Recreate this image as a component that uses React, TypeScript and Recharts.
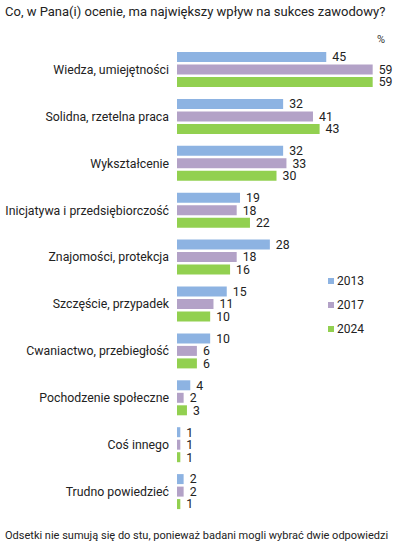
import React from 'react';
import { BarChart, Bar, XAxis, YAxis, LabelList } from 'recharts';

const categories = [
  'Wiedza, umiejętności',
  'Solidna, rzetelna praca',
  'Wykształcenie',
  'Inicjatywa i przedsiębiorczość',
  'Znajomości, protekcja',
  'Szczęście, przypadek',
  'Cwaniactwo, przebiegłość',
  'Pochodzenie społeczne',
  'Coś innego',
  'Trudno powiedzieć',
];
const values2013 = [45, 32, 32, 19, 28, 15, 10, 4, 1, 2];
const values2017 = [59, 41, 33, 18, 18, 11, 6, 2, 1, 2];
const values2024 = [59, 43, 30, 22, 16, 10, 6, 3, 1, 1];
const seriesNames = ['2013', '2017', '2024'];
const colors = ['#8DB3E2', '#B3A2C7', '#92D050'];

const data = categories.map((c, i) => ({
  name: c,
  y2013: values2013[i],
  y2017: values2017[i],
  y2024: values2024[i],
}));

const FONT = 'Roboto, "Noto Sans", sans-serif';

const CategoryTick = (props: any) => {
  const { x, y, payload } = props;
  return (
    <text x={x} y={y} dy="0.355em" textAnchor="end" fontSize={12.3} fill="#222" fontFamily={FONT}>
      {payload.value}
    </text>
  );
};

export default function App() {
  return (
    <div style={{ position: 'absolute', left: 0, top: 0, width: 397, height: 548, background: '#fff', fontFamily: FONT }}>
      <div style={{ position: 'absolute', left: 5, top: 4, fontSize: 13, color: '#222', whiteSpace: 'nowrap' }}>
        Co, w Pana(i) ocenie, ma największy wpływ na sukces zawodowy?
      </div>
      <div style={{ position: 'absolute', left: 377, top: 33, fontSize: 11, color: '#333' }}>%</div>
      <BarChart
        width={397}
        height={548}
        data={data}
        layout="vertical"
        margin={{ top: 46, right: 21, bottom: 33, left: 0 }}
        barSize={10}
        barGap={2.5}
      >
        <XAxis type="number" domain={[0, 60]} hide />
        <YAxis
          type="category"
          dataKey="name"
          width={177}
          axisLine={false}
          tickLine={false}
          tickSize={0}
          tickMargin={8}
          interval={0}
          tick={<CategoryTick />}
        />
        {['y2013', 'y2017', 'y2024'].map((k, i) => (
          <Bar key={k} dataKey={k} name={seriesNames[i]} fill={colors[i]} isAnimationActive={false}>
            <LabelList dataKey={k} position="right" offset={6} style={{ fontSize: 12.3, fill: '#222', fontFamily: FONT }} />
          </Bar>
        ))}
      </BarChart>
      <div style={{ position: 'absolute', left: 328, top: 269, fontSize: 12, color: '#222' }}>
        {seriesNames.map((s, i) => (
          <div key={s} style={{ display: 'flex', alignItems: 'center', height: 24 }}>
            <span style={{ display: 'inline-block', width: 6, height: 6, background: colors[i], marginRight: 3 }} />
            <span>{s}</span>
          </div>
        ))}
      </div>
      <div style={{ position: 'absolute', left: 5, top: 529, fontSize: 11, color: '#222', whiteSpace: 'nowrap' }}>
        Odsetki nie sumują się do stu, ponieważ badani mogli wybrać dwie odpowiedzi
      </div>
    </div>
  );
}
